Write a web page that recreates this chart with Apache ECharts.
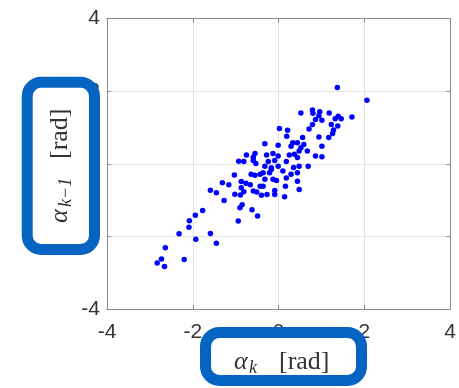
<!DOCTYPE html>
<html>
<head>
<meta charset="utf-8">
<script src="https://cdn.jsdelivr.net/npm/echarts@6/dist/echarts.min.js"></script>
<style>
  html, body { margin: 0; padding: 0; background: #fff; }
  #chart { width: 459px; height: 388px; }
</style>
</head>
<body>
<div id="chart"></div>
<script>
// alpha_k values (x)
var alphaK = [
  -2.83, -2.73, -2.66, -2.64, -2.20, -2.32, -2.09, -2.08, -1.94, -1.93,
  -1.77, -1.59, -1.45, -1.27, -1.59, -1.45, -1.31, -1.16, -1.03, -1.02,
  -0.94, -0.90, -0.85, -0.62, -0.49, -0.87, -0.76, -0.66, -0.87, -0.81,
  -0.89, -0.59, -0.43, -0.51, -0.40, -0.27, -0.09, 0.14, 0.16, -0.05,
  -0.81, -0.53, -0.32, -0.64, -0.55, -0.36, -0.75, -0.59, -0.55, -0.28,
  -0.13, -0.01, 0.25, 0.44, -0.93, -0.59, -0.24, -0.09, 0.18, -0.17,
  -0.01, 0.48, -0.43, -0.21, 0.10, 0.29, 0.44, -0.32, -0.13, 0.18,
  -0.36, 0.44, -0.09, 0.48, -0.32, -0.01, 0.29, 0.52, 0.02, 0.21,
  0.19, 0.56, 0.44, 1.37, 2.06, 0.52, 0.79, 0.80, 0.96, 0.94,
  1.18, 1.39, 1.46, 1.32, 1.71, 0.86, 1.01, 0.79, 1.23, 1.38,
  0.71, 1.28, 1.26, 1.17, 0.94, 0.33, 1.01, 0.59, 0.67, 0.48,
  0.37, 0.86, 1.01, 0.69, -0.17, 0.35
];
// alpha_{k-1} values (y)
var alphaKm1 = [
  -2.73, -2.62, -2.83, -2.31, -2.64, -1.93, -1.75, -1.57, -1.42, -2.08,
  -1.29, -1.92, -2.19, -1.01, -0.73, -0.80, -0.52, -0.58, -0.31, -0.84,
  -1.58, -1.21, -1.13, -1.27, -1.44, -0.49, -0.54, -0.58, -0.66, -0.77,
  -0.86, -0.75, -0.62, -0.78, -0.87, -0.85, -0.85, -0.91, -0.62, -0.46,
  0.06, 0.01, -0.07, -0.29, -0.32, -0.25, 0.24, 0.18, 0.28, 0.24,
  0.28, 0.21, 0.24, 0.17, 0.07, 0.09, 0.06, 0.09, 0.06, -0.11,
  -0.07, -0.07, -0.29, -0.25, -0.20, -0.29, -0.25, -0.43, -0.43, -0.39,
  -0.62, -0.48, -0.74, -0.71, 0.55, 0.51, 0.48, 0.44, 0.97, 0.92,
  0.76, 0.72, 0.58, 2.10, 1.75, 1.40, 1.48, 1.39, 1.43, 1.32,
  1.40, 1.31, 1.24, 1.24, 1.29, 1.22, 1.20, 1.08, 1.08, 1.04,
  0.96, 0.93, 0.83, 0.72, 0.74, 0.58, 0.48, 0.53, 0.35, 0.35,
  0.26, 0.21, 0.19, -0.07, -0.16, -0.10
];
var axisTicks = [-4, -2, 0, 2, 4];

var points = alphaK.map(function (x, i) { return [x, alphaKm1[i]]; });

var boxBlue = '#0563c1';
var labelFont = 'Liberation Sans, Arial, sans-serif';
var mathFont = 'Liberation Serif, DejaVu Serif, serif';

function mainAxis(pos) {
  return {
    type: 'value', position: pos,
    min: axisTicks[0], max: axisTicks[axisTicks.length - 1], interval: 2,
    axisLine: { show: true, onZero: false, lineStyle: { color: '#8a8a8a', width: 1 } },
    axisTick: { show: true, inside: true, length: 4, lineStyle: { color: '#8a8a8a' } },
    axisLabel: { color: '#333', fontSize: 21, fontFamily: labelFont, margin: pos === 'bottom' ? 13 : 7 },
    splitLine: { show: true, lineStyle: { color: '#e3e3e3', width: 1 } }
  };
}
function mirrorAxis(pos) {
  return {
    type: 'value', position: pos,
    min: axisTicks[0], max: axisTicks[axisTicks.length - 1], interval: 2,
    axisLine: { show: true, onZero: false, lineStyle: { color: '#8a8a8a', width: 1 } },
    axisTick: { show: true, inside: true, length: 4, lineStyle: { color: '#8a8a8a' } },
    axisLabel: { show: false },
    splitLine: { show: false }
  };
}

var chart = echarts.init(document.getElementById('chart'), null, { renderer: 'canvas' });
chart.setOption({
  animation: false,
  backgroundColor: '#fff',
  grid: { left: 107, top: 18.5, right: 2, bottom: 79 },
  xAxis: [mainAxis('bottom'), mirrorAxis('top')],
  yAxis: [mainAxis('left'), mirrorAxis('right')],
  series: [{
    type: 'scatter',
    data: points,
    symbol: 'circle',
    symbolSize: 5.5,
    itemStyle: { color: '#0000ff', opacity: 1 }
  }],
  graphic: [
    // y label box
    {
      type: 'group', z: 100,
      children: [
        { type: 'rect', shape: { x: 27.2, y: 82.2, width: 67.3, height: 167.3, r: 14 },
          style: { fill: '#fff', stroke: boxBlue, lineWidth: 11 }, z: 100 },
        {
          type: 'group', x: 60, y: 163, rotation: Math.PI / 2, z: 101,
          children: [
            { type: 'text', x: -60, y: 0, z: 101, style: { text: 'α', font: 'italic 26px ' + mathFont, fill: '#333', textVerticalAlign: 'middle' } },
            { type: 'text', x: -44, y: 6, z: 101, style: { text: 'k−1', font: 'italic 18px ' + mathFont, fill: '#333', textVerticalAlign: 'middle' } },
            { type: 'text', x: 4, y: 0, z: 101, style: { text: '[rad]', font: '26px ' + mathFont, fill: '#333', textVerticalAlign: 'middle' } }
          ]
        }
      ]
    },
    // x label box
    {
      type: 'group', z: 100,
      children: [
        { type: 'rect', shape: { x: 205.5, y: 332.5, width: 156, height: 48, r: 14 },
          style: { fill: '#fff', stroke: boxBlue, lineWidth: 11 }, z: 100 },
        {
          type: 'group', x: 278, y: 362, z: 101,
          children: [
            { type: 'text', x: -44, y: 0, z: 101, style: { text: 'α', font: 'italic 26px ' + mathFont, fill: '#333', textVerticalAlign: 'middle' } },
            { type: 'text', x: -29, y: 6, z: 101, style: { text: 'k', font: 'italic 18px ' + mathFont, fill: '#333', textVerticalAlign: 'middle' } },
            { type: 'text', x: 1, y: 0, z: 101, style: { text: '[rad]', font: '26px ' + mathFont, fill: '#333', textVerticalAlign: 'middle' } }
          ]
        }
      ]
    }
  ]
});
</script>
</body>
</html>
